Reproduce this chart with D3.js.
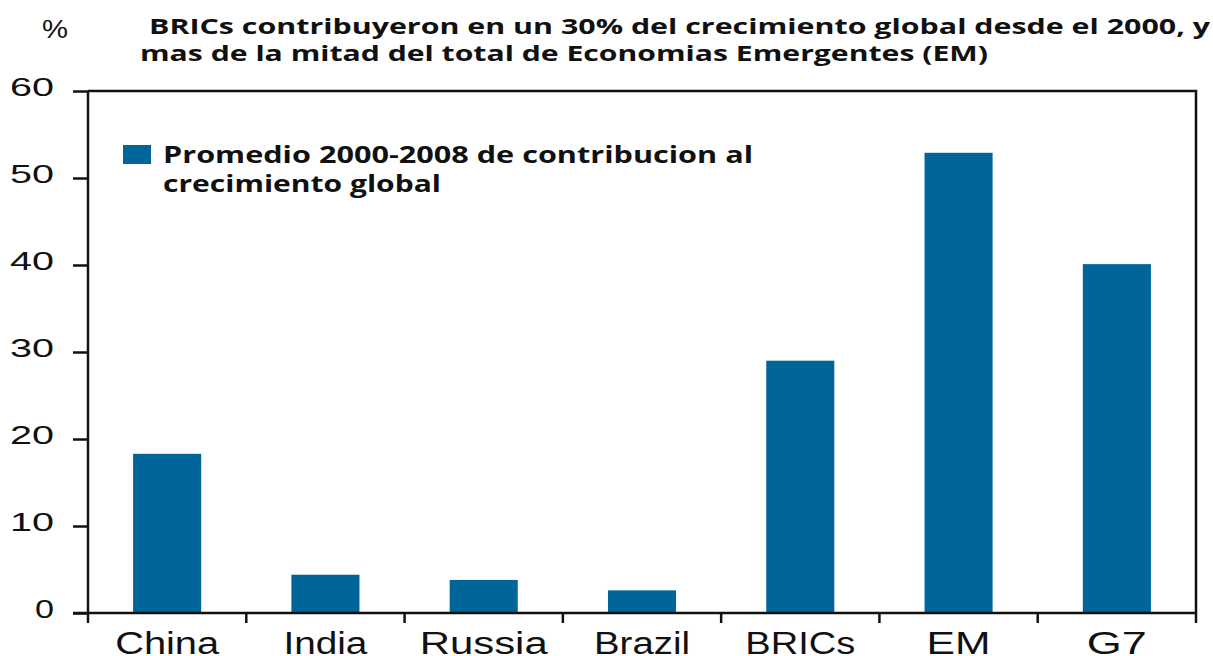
<!DOCTYPE html>
<html>
<head>
<meta charset="utf-8">
<script src="https://cdn.jsdelivr.net/npm/d3@7"></script>
<style>
  body { margin: 0; background: #fff; }
  svg { display: block; }
</style>
</head>
<body>
<script>
var width = 1213, height = 656;

// data
var categories = ["China", "India", "Russia", "Brazil", "BRICs", "EM", "G7"];
var values = [18.3, 4.4, 3.8, 2.6, 29.0, 52.9, 40.1];
var yTicks = [0, 10, 20, 30, 40, 50, 60];
var titleLines = [
  "BRICs contribuyeron en un 30% del crecimiento global desde el 2000, y",
  "mas de la mitad del total de Economias Emergentes (EM)"
];
var legendLines = ["Promedio 2000-2008 de contribucion al", "crecimiento global"];

var barColor = "#00669a";

var plot = {left: 88, right: 1196, top: 91, bottom: 613};

var svg = d3.select("body").append("svg")
    .attr("width", width)
    .attr("height", height);

var x = d3.scaleBand()
    .domain(categories)
    .range([plot.left, plot.right])
    .paddingInner(0.57)
    .paddingOuter(0.285);

var xb = d3.scaleBand()   // full category slots, for tick marks
    .domain(categories)
    .range([plot.left, plot.right]);

var y = d3.scaleLinear()
    .domain([0, 60])
    .range([plot.bottom, plot.top]);

// bars
svg.append("g")
  .selectAll("rect")
  .data(values)
  .enter().append("rect")
    .attr("x", function(d, i){ return x(categories[i]); })
    .attr("y", function(d){ return y(d); })
    .attr("width", x.bandwidth())
    .attr("height", function(d){ return y(0) - y(d); })
    .attr("fill", barColor);

// frame: top and right border
svg.append("path")
    .attr("d", "M" + plot.left + "," + plot.top + "H" + plot.right + "V" + (plot.bottom + 10))
    .attr("fill", "none")
    .attr("stroke", "#111")
    .attr("stroke-width", 2.5);

// y axis
var yAxis = svg.append("g")
    .attr("transform", "translate(" + plot.left + ",0)")
    .call(d3.axisLeft(y).tickValues(yTicks).tickSize(15).tickFormat(""));
yAxis.select(".domain").attr("stroke", "#111").attr("stroke-width", 2.5)
    .attr("d", "M0," + plot.top + "V" + (plot.bottom + 10));
yAxis.selectAll(".tick line").attr("stroke", "#111").attr("stroke-width", 2.5);

svg.append("g").selectAll("text")
  .data(yTicks)
  .enter().append("text")
    .attr("x", 54)
    .attr("y", function(d){ return y(d) + 5; })
    .attr("text-anchor", "end")
    .attr("font-family", "Liberation Sans, Arial, sans-serif")
    .attr("font-size", 25)
    .attr("fill", "#111")
    .attr("textLength", function(d){ return d === 0 ? 19 : 44; })
    .attr("lengthAdjust", "spacingAndGlyphs")
    .text(function(d){ return d; });

// x axis
svg.append("line")
    .attr("x1", plot.left - 15).attr("x2", plot.right)
    .attr("y1", y(0)).attr("y2", y(0))
    .attr("stroke", "#111").attr("stroke-width", 2.5);

svg.append("g").selectAll("line")
  .data(categories.slice(1))
  .enter().append("line")
    .attr("x1", function(d){ return xb(d); })
    .attr("x2", function(d){ return xb(d); })
    .attr("y1", y(0)).attr("y2", y(0) + 10)
    .attr("stroke", "#111").attr("stroke-width", 2.5);

var labelWidths = {China: 104, India: 84, Russia: 128, Brazil: 96, BRICs: 110, EM: 64, G7: 60};
svg.append("g").selectAll("text")
  .data(categories)
  .enter().append("text")
    .attr("x", function(d){ return xb(d) + xb.bandwidth() / 2; })
    .attr("y", 654)
    .attr("text-anchor", "middle")
    .attr("font-family", "Liberation Sans, Arial, sans-serif")
    .attr("font-size", 31)
    .attr("fill", "#111")
    .attr("textLength", function(d){ return labelWidths[d]; })
    .attr("lengthAdjust", "spacingAndGlyphs")
    .text(function(d){ return d; });

// "%" unit label
svg.append("text")
    .attr("x", 42).attr("y", 38)
    .attr("font-family", "Liberation Sans, Arial, sans-serif")
    .attr("font-size", 25)
    .attr("fill", "#111")
    .attr("textLength", 26)
    .attr("lengthAdjust", "spacingAndGlyphs")
    .text("%");

// title
var titleX = [149, 140], titleY = [34, 61], titleW = [1061, 848];
svg.append("g").selectAll("text")
  .data(titleLines)
  .enter().append("text")
    .attr("x", function(d, i){ return titleX[i]; })
    .attr("y", function(d, i){ return titleY[i]; })
    .attr("font-family", "Open Sans, sans-serif")
    .attr("font-weight", "bold")
    .attr("font-size", 21)
    .attr("fill", "#111")
    .attr("textLength", function(d, i){ return titleW[i]; })
    .attr("lengthAdjust", "spacingAndGlyphs")
    .text(function(d){ return d; });

// legend
svg.append("rect")
    .attr("x", 123).attr("y", 145)
    .attr("width", 28).attr("height", 19)
    .attr("fill", barColor);

var legW = [590, 278];
svg.append("g").selectAll("text")
  .data(legendLines)
  .enter().append("text")
    .attr("x", 163)
    .attr("y", function(d, i){ return 163 + i * 29; })
    .attr("font-family", "Open Sans, sans-serif")
    .attr("font-weight", "bold")
    .attr("font-size", 23)
    .attr("fill", "#111")
    .attr("textLength", function(d, i){ return legW[i]; })
    .attr("lengthAdjust", "spacingAndGlyphs")
    .text(function(d){ return d; });
</script>
</body>
</html>
